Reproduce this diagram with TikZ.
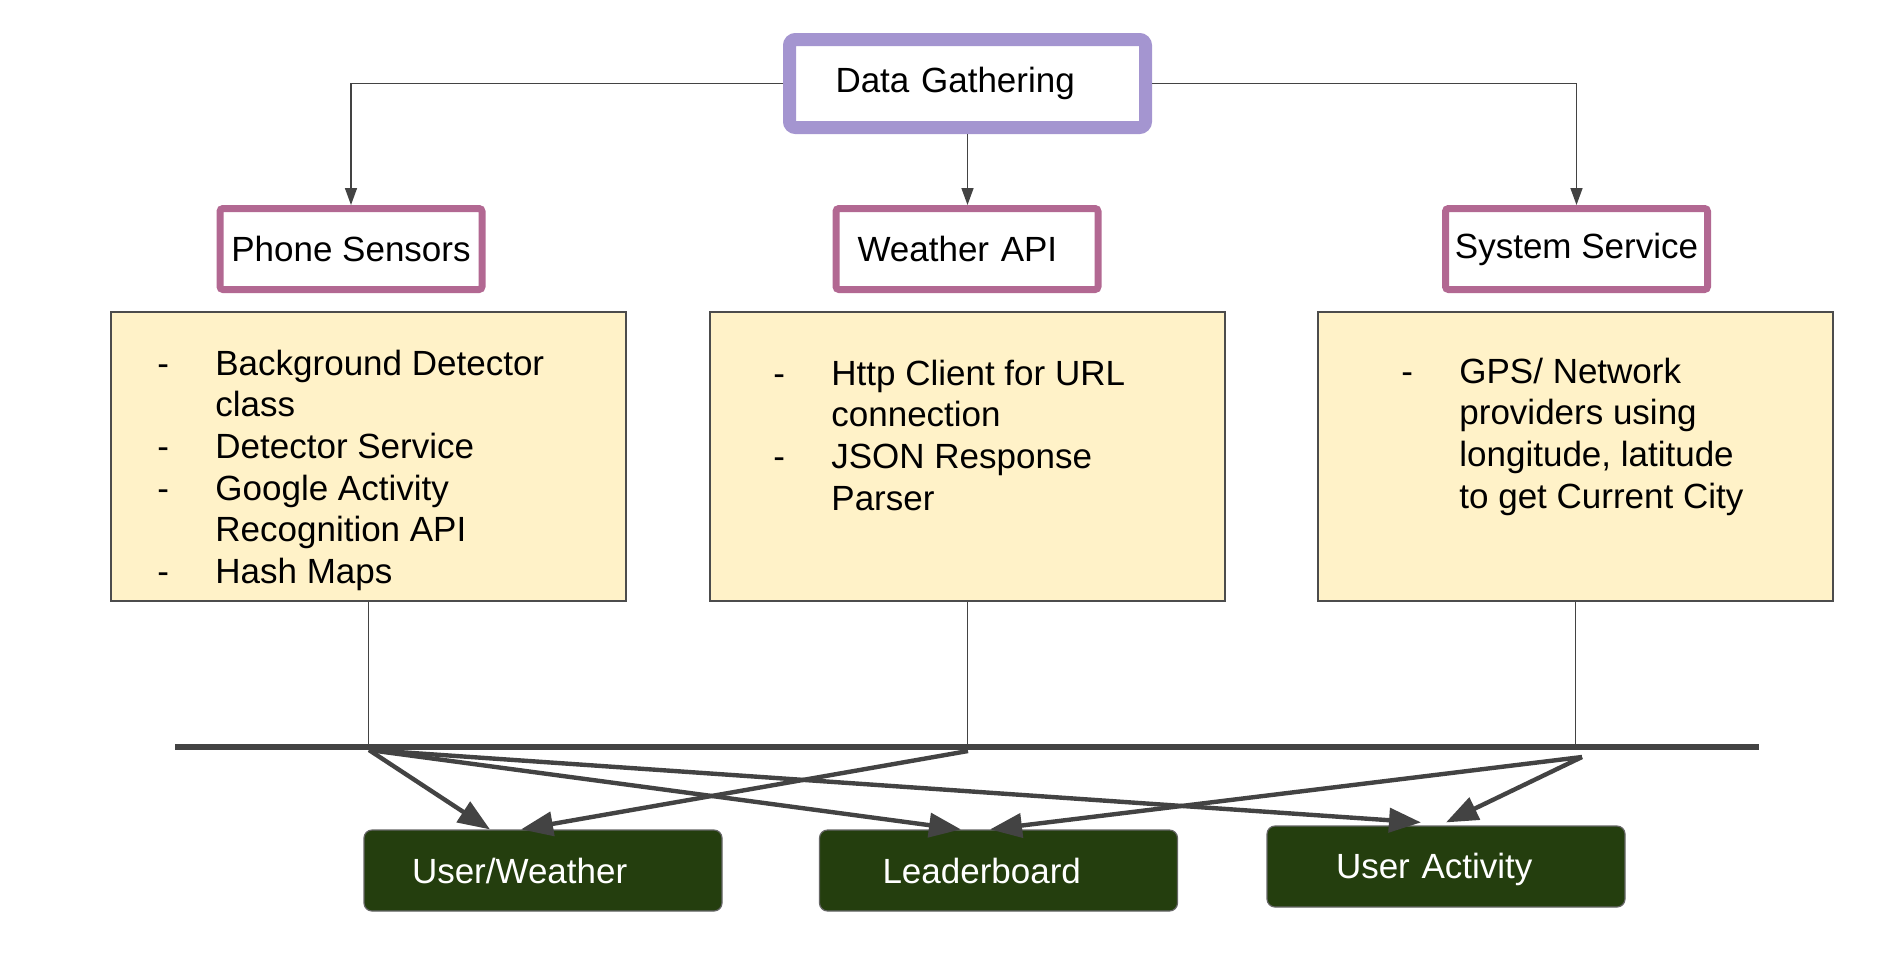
\documentclass[tikz,border=0pt]{standalone}
\usepackage{fontspec}
\setmainfont{Liberation Sans}
\usetikzlibrary{arrows.meta,calc}

\definecolor{gatherpurple}{RGB}{164,149,208}
\definecolor{sourcepink}{RGB}{178,104,146}
\definecolor{notesyellow}{RGB}{255,242,200}
\definecolor{viewgreen}{RGB}{36,62,14}
\definecolor{wiregray}{RGB}{67,67,67}

\tikzset{
  txt/.style={font=\fontsize{17.5}{20.85}\selectfont},
  lefttext/.style 2 args={align=left, inner xsep=#1, text width=#2},
  gatherbox/.style={txt, draw=gatherpurple, line width=6.5pt, rounded corners=3pt, fill=white, minimum width=178pt, minimum height=44pt},
  sourcebox/.style={txt, draw=sourcepink, line width=3.5pt, rounded corners=1.5pt, fill=white, minimum width=131pt, minimum height=40.5pt, inner sep=0pt},
  notebox/.style={draw=black!70, fill=notesyellow, line width=0.75pt, minimum width=257.5pt, minimum height=144.5pt},
  notetext/.style={txt, anchor=base west, inner sep=0pt},
  viewbox/.style={txt, text=white, fill=viewgreen, draw=black!60, line width=0.6pt, rounded corners=4pt, minimum width=179pt, minimum height=40.5pt},
  feed/.style={wiregray, line width=0.75pt, -{Triangle[length=8.5pt,width=6pt]}},
  tap/.style={wiregray, line width=0.6pt},
  bus/.style={wiregray, line width=2.6pt},
  push/.style={wiregray, line width=2.2pt, -{Triangle[length=16pt,width=12pt]}}
}

\begin{document}
\begin{tikzpicture}[x=0.5pt,y=-0.5pt]
\useasboundingbox (0,0) rectangle (1896,966);

\node[gatherbox, lefttext={23pt}{132pt}] (gather) at (967.5,83.5) {Data Gathering};

\node[sourcebox] (ps) at (351,249) {Phone Sensors};
\node[sourcebox, lefttext={10.75pt}{109.5pt}] (wa) at (967,249) {Weather API};
\node[sourcebox] (ss) at (1576.5,249) {System Service};

\node[notebox] (ps-box) at (368.5,456.5) {};
\node[notebox] (wa-box) at (967.5,456.5) {};
\node[notebox] (ss-box) at (1575.5,456.5) {};

\node[notetext] (ps-list) at (157,375) {\begin{tabular}[t]{@{}p{29pt}@{}l@{}}
- & Background Detector\\
  & class\\
- & Detector Service\\
- & Google Activity\\
  & Recognition API\\
- & Hash Maps
\end{tabular}};
\node[notetext] (wa-list) at (773,385) {\begin{tabular}[t]{@{}p{29pt}@{}l@{}}
- & Http Client for URL\\
  & connection\\
- & JSON Response\\
  & Parser
\end{tabular}};
\node[notetext] (ss-list) at (1401,383) {\begin{tabular}[t]{@{}p{29pt}@{}l@{}}
- & GPS/ Network\\
  & providers using\\
  & longitude, latitude\\
  & to get Current City
\end{tabular}};

\node[viewbox, lefttext={24pt}{131pt}] (uw) at (543,870.5) {User/Weather};
\node[viewbox, lefttext={31.5pt}{116pt}] (lb) at (998.5,870.5) {Leaderboard};
\node[viewbox, lefttext={34.5pt}{110pt}, text depth=1pt] (ua) at (1446,866.5) {User Activity};

\draw[feed] (gather.west) -| (ps.north);
\draw[feed] (gather.south) -- (gather.south |- wa.north);
\draw[feed] (gather.east) -| (ss.north);

% bus
\coordinate (bus-w) at (175,747);
\coordinate (bus-e) at (1759,747);
\draw[tap] (ps-box.south) -- (ps-box.south |- bus-w);
\draw[tap] (wa-box.south) -- (wa-box.south |- bus-w);
\draw[tap] (ss-box.south) -- (ss-box.south |- bus-w);
\draw[bus] (bus-w) -- (bus-e);

\coordinate (j1) at (369,750);
\coordinate (j2) at (968,751);
\coordinate (j3) at (1582,757);

\draw[push] (j1) -- ($(uw.north)+(-53,0)$);
\draw[push] (j1) -- ($(lb.north)+(-37.5,0)$);
\draw[push] (j1) -- ($(ua.north)+(-25,-3)$);
\draw[push] (j2) -- ($(uw.north)+(-22,0)$);
\draw[push] (j3) -- ($(lb.north)+(-8.5,0)$);
\draw[push] (j3) -- ($(ua.north)+(0,-3)$);
\end{tikzpicture}
\end{document}
